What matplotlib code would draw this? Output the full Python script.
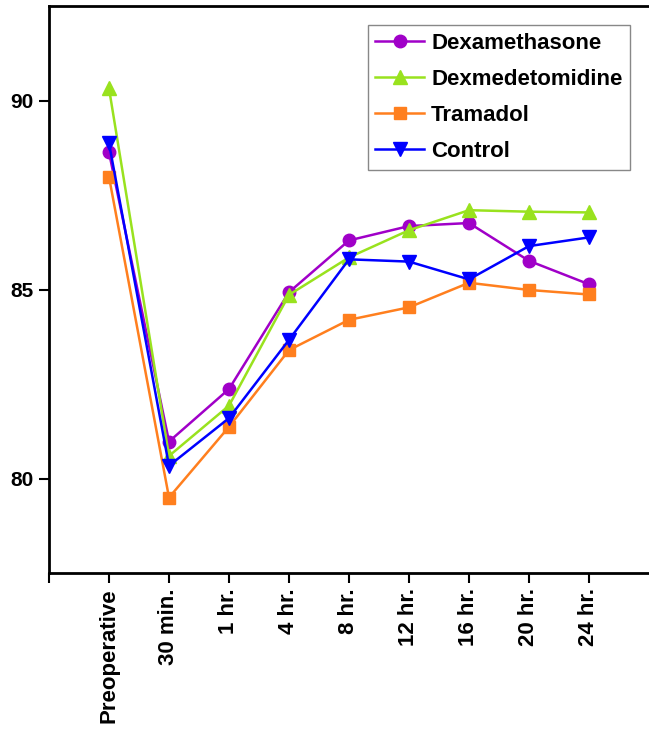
import numpy as np
import matplotlib
matplotlib.use("Agg")
from matplotlib import pyplot as plt

plt.rcParams["font.family"] = ["Liberation Sans", "DejaVu Sans"]
plt.rcParams["font.weight"] = "bold"

time_labels = ["Preoperative", "30 min.", "1 hr.", "4 hr.", "8 hr.",
               "12 hr.", "16 hr.", "20 hr.", "24 hr."]

dexamethasone = [88.63, 80.98, 82.37, 84.93, 86.30, 86.68, 86.76, 85.76, 85.14]
dexmedetomidine = [90.32, 80.60, 81.93, 84.86, 85.85, 86.57, 87.10, 87.06, 87.04]
tramadol = [87.98, 79.50, 81.37, 83.40, 84.20, 84.53, 85.18, 84.99, 84.87]
control = [88.87, 80.34, 81.60, 83.67, 85.80, 85.74, 85.27, 86.15, 86.38]

series = [
    ("Dexamethasone", dexamethasone, "#A000C8", "o", 9),
    ("Dexmedetomidine", dexmedetomidine, "#99E21E", "^", 10),
    ("Tramadol", tramadol, "#FF7F1E", "s", 8),
    ("Control", control, "#0000FF", "v", 10),
]

fig = plt.figure(figsize=(6.49, 7.32), dpi=100)
ax = fig.add_axes([0.0755, 0.217, 0.9245, 0.7748])

x = np.arange(1, len(time_labels) + 1)
for name, vals, col, mk, ms in series:
    ax.plot(x, vals, color=col, marker=mk, markersize=ms, lw=1.8, label=name)

ax.set_xlim(0, 10)
ax.set_ylim(77.5, 92.5)
ax.set_xticks(np.arange(0, len(time_labels) + 1))
ax.set_xticklabels([""] + time_labels, rotation=90, fontsize=16, fontweight="bold")
ax.set_yticks([80, 85, 90])
ax.set_yticklabels(["80", "85", "90"], fontsize=15, fontweight="bold")
ax.tick_params(direction="out", length=7, width=1.5, pad=4)

for side in ["left", "top", "bottom"]:
    ax.spines[side].set_linewidth(2)
ax.spines["right"].set_visible(False)

leg = ax.legend(loc="upper right", bbox_to_anchor=(0.971, 0.966),
                bbox_transform=fig.transFigure, fancybox=False, framealpha=1,
                edgecolor="#888888", prop=dict(size=16, weight="bold"),
                handlelength=2.2, handletextpad=0.3, labelspacing=0.68,
                borderpad=0.35, borderaxespad=0)
leg.get_frame().set_linewidth(1)

fig.savefig("out.png", dpi=100)
